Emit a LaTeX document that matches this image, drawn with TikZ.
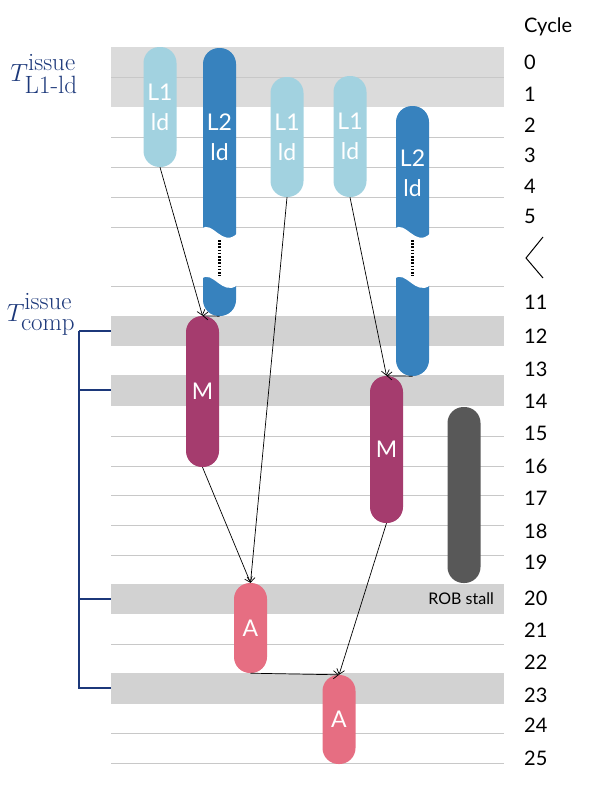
\documentclass[tikz,border=0pt]{standalone}
\usepackage{amsmath}
\usepackage{fontspec}
\usepackage{tikz}
\usetikzlibrary{arrows.meta}
\newfontfamily\gillfont{Lato}
\DeclareMathSizes{34}{34}{25}{19}
\definecolor{ldone}{RGB}{162, 210, 224}
\definecolor{ldtwo}{RGB}{55, 130, 190}
\definecolor{mulclr}{RGB}{165, 60, 110}
\definecolor{addclr}{RGB}{230, 110, 130}
\definecolor{stallclr}{RGB}{88, 88, 88}
\definecolor{bandA}{RGB}{219, 219, 219}
\definecolor{bandB}{RGB}{210, 210, 210}
\definecolor{rowclr}{RGB}{200, 200, 200}
\definecolor{tclr}{RGB}{28, 56, 122}
\tikzset{
  % uop bars
  pill/.style     = {rectangle, rounded corners=16pt, minimum width=33pt,
                     inner sep=0pt, text=white, align=center,
                     font=\gillfont\fontsize{23}{30}\selectfont},
  lonebar/.style  = {pill, fill=ldone},
  ltwobar/.style  = {pill, fill=ldtwo},
  mulbar/.style   = {pill, fill=mulclr},
  addbar/.style   = {pill, fill=addclr},
  stallbar/.style = {pill, fill=stallclr},
  barlab/.style   = {text=white, align=center, inner sep=0pt,
                     font=\gillfont\fontsize{23}{30}\selectfont},
  % grid
  rowline/.style  = {draw=rowclr, line width=0.9pt},
  % dependencies
  dep/.style      = {-{Straight Barb[length=5pt,width=8pt]}, line width=0.7pt},
  gapdots/.style  = {dash pattern=on 1.6pt off 1.6pt, line width=2.2pt},
  % labels
  cyc/.style      = {anchor=west, inner sep=0pt, font=\gillfont\fontsize{20}{24}\selectfont},
  tlab/.style     = {text=tclr, inner sep=0pt, font=\fontsize{34}{38}\selectfont},
  brk/.style      = {draw=tclr, line width=1.6pt},
}
% white tear across a long bar, #1 = centre x
\newcommand{\tear}[1]{%
  \fill[white] ({#1-18},229) .. controls ({#1-7},219) and ({#1+3},249) .. ({#1+18},233)
    -- ({#1+18},285) .. controls ({#1+3},297) and ({#1-7},269) .. ({#1-18},279) -- cycle;
  \draw[gapdots] (#1,240) -- (#1,276);
}
\begin{document}
\begin{tikzpicture}[x=1pt, y=-1pt]
  \useasboundingbox (0,0) rectangle (601,787);
  % cycle rows
  \fill[bandA] (111,47) rectangle (504,107);
  \foreach \ya/\yb in {316/346, 375/406, 584/614, 673/704}
    \fill[bandB] (111,\ya) rectangle (504,\yb);
  \foreach \y in {77, 137, 167, 197, 227, 286, 436, 466, 495, 525, 555, 644, 733, 763}
    \draw[rowline] (111,\y) -- (504,\y);

  % loads
  \node[lonebar, minimum height=120pt] (lda) at (160,107) {L1\\ld};
  \node[ltwobar, minimum height=268pt] (ldb) at (219.5,182) {};
  \node[barlab] at (219.5,137) {L2\\ld};
  \node[lonebar, minimum height=120pt] (ldc) at (287,137) {L1\\ld};
  \node[lonebar, minimum height=121pt] (ldd) at (350,136.5) {L1\\ld};
  \node[ltwobar, minimum height=270pt] (lde) at (412.5,241) {};
  \node[barlab] at (412.5,173) {L2\\ld};
  \tear{219.5}
  \tear{412.5}

  % compute
  \node[mulbar, minimum height=151pt] (mula) at (202.5,391.5) {M};
  \node[mulbar, minimum height=147pt] (mulb) at (386.5,449.5) {M};
  \node[stallbar, minimum height=176pt] (stall) at (464,495) {};
  \node[addbar, minimum height=90pt] (adda) at (250.5,628) {A};
  \node[addbar, minimum height=89pt] (addb) at (339,719.5) {A};
  \node[anchor=east, inner sep=0pt, font=\gillfont\fontsize{16}{18}\selectfont] (rob) at (494,599) {ROB stall};

  % dependencies
  \draw[dep] (lda.south) -- (mula.north);
  \draw[dep] (ldb.south) -- (mula.north);
  \draw[dep] (mula.south) -- (adda.north);
  \draw[dep] (ldc.south) -- (adda.north);
  \draw[dep] (ldd.south) -- (mulb.north);
  \draw[dep] (lde.south) -- (mulb.north);
  \draw[dep] (mulb.south) -- (addb.north);
  \draw[dep] (adda.south) -- (addb.north);

  % cycle numbers
  \node[cyc] (cyctitle) at (524,27) {Cycle};
  \foreach \n/\y in {0/62, 1/94, 2/125, 3/155, 4/186, 5/216, 11/302, 12/336, 13/369,
                     14/401, 15/433, 16/466, 17/498, 18/531, 19/562, 20/598,
                     21/630, 22/662, 23/695, 24/725, 25/758}
    \node[cyc] (c\n) at (524,\y) {\n};
  \draw[line width=1pt] (543,237) -- (526,258) -- (543,278);

  % issue times
  \node[tlab] (tld) at (44,74) {$T^{\text{\raisebox{2pt}{issue}}}_{\text{L1-ld}}$};
  \node[tlab] (tcomp) at (41,314) {$T^{\text{\raisebox{3pt}{issue}}}_{\text{\raisebox{-3pt}{comp}}}$};
  \coordinate (bk) at (79,331);
  \coordinate (b12) at (111,331);
  \coordinate (b14) at (111,390);
  \coordinate (b20) at (111,599);
  \coordinate (b23) at (111,688);
  \draw[brk] (bk) -- (b12);
  \draw[brk] (bk) |- (b23);
  \draw[brk] (bk|-b14) -- (b14);
  \draw[brk] (bk|-b20) -- (b20);
\end{tikzpicture}
\end{document}
